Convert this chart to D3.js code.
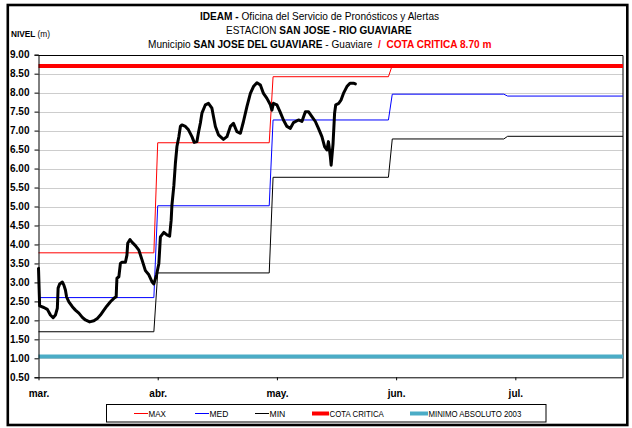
<!DOCTYPE html>
<html>
<head>
<meta charset="utf-8">
<script src="https://cdn.jsdelivr.net/npm/d3@7"></script>
<style>
  html, body { margin: 0; padding: 0; background: #fff; }
  svg { display: block; font-family: "Liberation Sans", Arial, sans-serif; }
</style>
</head>
<body>
<svg id="chart" width="632" height="428"></svg>
<script>
// Monthly reference levels (m), one value per month Mar..Jul
const monthLabels = ["mar.", "abr.", "may.", "jun.", "jul."];
const maxLevels = [3.78, 6.68, 8.42, 8.72, 8.72];
const medLevels = [2.60, 5.02, 7.28, 7.96, 7.91];
const minLevels = [1.70, 3.25, 5.77, 6.78, 6.85];
const cotaCritica = 8.70;
const minimoAbsoluto2003 = 1.05;
const yTickValues = [0.5, 1, 1.5, 2, 2.5, 3, 3.5, 4, 4.5, 5, 5.5, 6, 6.5, 7, 7.5, 8, 8.5, 9];

// Observed river level: days elapsed since 1 March, and level (m)
const obsDay = [0.0, 0.3, 1.4, 2.3, 3.1, 3.8, 4.4, 4.9, 5.1, 5.5, 6.2, 6.6, 7.0, 7.3, 7.9, 8.8, 9.6, 10.5,
  11.4, 12.2, 13.3, 14.4, 15.3, 16.1, 17.0, 17.8, 18.7, 19.6, 20.2, 20.3, 20.4, 20.9, 21.3, 21.7, 22.6,
  23.0, 23.2, 23.8, 24.3, 25.2, 26.1, 26.9, 27.8, 28.7, 29.5, 30.0, 30.7, 31.3, 31.7, 32.6, 33.4, 34.1,
  34.5, 34.7, 35.2, 35.6, 36.0, 36.5, 36.9, 37.3, 38.2, 39.0, 39.9, 40.5, 41.2, 41.6, 42.1, 42.5, 43.4,
  44.2, 45.1, 45.5, 46.0, 46.8, 48.1, 49.0, 49.9, 50.7, 51.6, 52.5, 53.3, 54.2, 55.1, 55.9, 56.8, 57.7,
  58.5, 59.4, 60.3, 60.7, 61.1, 62.0, 62.8, 63.7, 64.6, 65.5, 66.3, 67.6, 68.5, 69.4, 70.2, 71.1, 72.0,
  72.8, 73.7, 74.4, 75.0, 75.4, 75.9, 76.1, 76.6, 77.0, 77.3, 78.1, 78.7, 79.3, 80.2, 81.0, 81.9, 82.4];
const obsLevel = [3.37, 2.38, 2.34, 2.29, 2.14, 2.07, 2.14, 2.32, 2.85, 2.96, 3.01, 2.93, 2.80, 2.62, 2.49, 2.36, 2.27, 2.19,
  2.08, 2.01, 1.96, 1.99, 2.05, 2.14, 2.27, 2.38, 2.49, 2.58, 2.62, 2.89, 3.11, 3.15, 3.50, 3.53, 3.53,
  3.72, 4.03, 4.13, 4.06, 3.97, 3.85, 3.60, 3.31, 3.20, 3.02, 2.96, 3.20, 3.50, 4.20, 4.32, 4.25, 4.22,
  4.64, 5.04, 5.55, 6.14, 6.58, 6.84, 7.11, 7.15, 7.11, 7.02, 6.84, 6.69, 6.71, 6.95, 7.20, 7.46, 7.68,
  7.72, 7.59, 7.37, 7.11, 6.89, 6.77, 6.84, 7.11, 7.19, 6.97, 6.93, 7.24, 7.63, 7.98, 8.16, 8.26, 8.20,
  7.98, 7.85, 7.68, 7.54, 7.72, 7.68, 7.50, 7.28, 7.11, 7.06, 7.21, 7.28, 7.24, 7.50, 7.50, 7.37, 7.24,
  7.06, 6.84, 6.58, 6.49, 6.71, 6.31, 6.09, 6.66, 7.46, 7.68, 7.72, 7.81, 7.98, 8.16, 8.25, 8.25, 8.23];

const svg = d3.select("#chart");
const W = 632, H = 428;
const plot = { left: 38.5, right: 623, top: 54.7, bottom: 377.3 };

const start = new Date(Date.UTC(2011, 2, 1));
const end = d3.utcDay.offset(d3.utcMonth.offset(start, 5), -1); // 31 July

const x = d3.scaleUtc().domain([start, end]).range([plot.left, plot.right]);
const y = d3.scaleLinear().domain([0.5, 9]).range([plot.bottom, plot.top]);

// fit a text element horizontally into a given width
function fitText(node, left, baseline, width) {
  const w = node.getBBox().width;
  d3.select(node).attr("transform", `translate(${left},${baseline}) scale(${width / w},1)`);
}

// outer frame
svg.append("rect")
  .attr("x", 7.8).attr("y", 5).attr("width", 619.5).attr("height", 420)
  .attr("fill", "#fff").attr("stroke", "#000").attr("stroke-width", 2.6);

// title
const titleLines = [
  { parts: [["IDEAM - ", "bold", "#000"], ["Oficina del Servicio de Pronósticos y Alertas", "normal", "#000"]], base: 19.5, left: 200, width: 240 },
  { parts: [["ESTACION ", "normal", "#000"], ["SAN JOSE - RIO GUAVIARE", "bold", "#000"]], base: 33.5, left: 226, width: 186 },
  { parts: [["Municipio ", "normal", "#000"], ["SAN JOSE DEL GUAVIARE", "bold", "#000"], [" - Guaviare  ", "normal", "#000"], ["/  COTA CRITICA 8.70 m", "bold", "#ff0000"]], base: 47.5, left: 148, width: 344 }
];
titleLines.forEach(line => {
  const t = svg.append("text").attr("font-size", 11).attr("x", 0).attr("y", 0).attr("xml:space", "preserve");
  line.parts.forEach(p => t.append("tspan").text(p[0]).attr("font-weight", p[1]).attr("fill", p[2]));
  fitText(t.node(), line.left, line.base, line.width);
});

// y axis caption
const cap = svg.append("text").attr("font-size", 9.5).attr("xml:space", "preserve");
cap.append("tspan").text("NIVEL ").attr("font-weight", "bold");
cap.append("tspan").text("(m)");
fitText(cap.node(), 11, 37, 39);

// gridlines
const crisp = v => Math.round(v) + 0.5;
svg.append("g").selectAll("line")
  .data(yTickValues.filter(v => v > 0.5 && v < 9))
  .join("line")
  .attr("x1", plot.left).attr("x2", plot.right)
  .attr("y1", d => crisp(y(d))).attr("y2", d => crisp(y(d)))
  .attr("stroke", "#9a9a9a").attr("stroke-width", 1).attr("stroke-dasharray", "1,1");

// plot area top and right border
svg.append("path")
  .attr("d", `M${plot.left},${crisp(y(9))}H${plot.right}V${plot.bottom}`)
  .attr("fill", "none").attr("stroke", "#000").attr("stroke-width", 1);

// monthly step series
function stepPoints(levels) {
  return levels.flatMap((v, i) => {
    const s = d3.utcMonth.offset(start, i);
    const e = i === levels.length - 1 ? end : d3.utcDay.offset(d3.utcMonth.offset(start, i + 1), -1);
    return [[s, v], [e, v]];
  });
}
const line = d3.line().x(d => x(d[0])).y(d => y(d[1]));
const stepSeries = [
  { levels: minLevels, color: "#000" },
  { levels: medLevels, color: "#0000ff" },
  { levels: maxLevels, color: "#ff0000" }
];
stepSeries.forEach(s => {
  svg.append("path").datum(stepPoints(s.levels)).attr("d", line)
    .attr("fill", "none").attr("stroke", s.color).attr("stroke-width", 1);
});

// critical level and historical minimum
svg.append("path").datum([[start, cotaCritica], [end, cotaCritica]]).attr("d", line)
  .attr("fill", "none").attr("stroke", "#ff0000").attr("stroke-width", 4);
svg.append("path").datum([[start, minimoAbsoluto2003], [end, minimoAbsoluto2003]]).attr("d", line)
  .attr("fill", "none").attr("stroke", "#4bacc6").attr("stroke-width", 4);

// observed level
const obs = obsDay.map((d, i) => [new Date(start.getTime() + d * 864e5), obsLevel[i]]);
svg.append("path").datum(obs).attr("d", line)
  .attr("fill", "none").attr("stroke", "#000").attr("stroke-width", 3)
  .attr("stroke-linejoin", "round").attr("stroke-linecap", "round");

// y axis
const yAxis = svg.append("g").attr("transform", `translate(${plot.left},0)`)
  .call(d3.axisLeft(y).tickValues(yTickValues).tickFormat(d3.format(".2f")).tickSize(4).tickPadding(5));
yAxis.select(".domain").attr("stroke", "#000");
yAxis.selectAll(".tick line").attr("stroke", "#000");
yAxis.selectAll("text").attr("font-size", 10).attr("font-weight", "bold")
  .attr("font-family", "'Liberation Sans', Arial, sans-serif").attr("fill", "#000");

// x axis: ticks every 31 days from 1 March
const xTicks = monthLabels.map((m, i) => d3.utcDay.offset(start, 31 * i));
const xAxis = svg.append("g").attr("transform", `translate(0,${plot.bottom})`)
  .call(d3.axisBottom(x).tickValues(xTicks).tickFormat((d, i) => monthLabels[i]).tickSize(3).tickSizeOuter(0).tickPadding(10));
xAxis.select(".domain").attr("stroke", "#000");
xAxis.selectAll(".tick line").attr("stroke", "#000");
xAxis.selectAll("text").attr("font-size", 10).attr("font-weight", "bold")
  .attr("font-family", "'Liberation Sans', Arial, sans-serif").attr("fill", "#000");

// legend
svg.append("rect").attr("x", 106.5).attr("y", 404.5).attr("width", 439.5).attr("height", 17.5)
  .attr("fill", "#fff").attr("stroke", "#000").attr("stroke-width", 1);
const legendItems = [
  { label: "MAX", color: "#ff0000", sw: 1, x0: 134, x1: 148, tw: 18 },
  { label: "MED", color: "#0000ff", sw: 1, x0: 195, x1: 209, tw: 19 },
  { label: "MIN", color: "#000", sw: 1, x0: 255, x1: 269, tw: 16 },
  { label: "COTA CRITICA", color: "#ff0000", sw: 4, x0: 312, x1: 329, tw: 55 },
  { label: "MINIMO ABSOLUTO 2003", color: "#4bacc6", sw: 4, x0: 410, x1: 428, tw: 93 }
];
const ly = 413.5;
legendItems.forEach(it => {
  svg.append("line").attr("x1", it.x0).attr("x2", it.x1).attr("y1", ly).attr("y2", ly)
    .attr("stroke", it.color).attr("stroke-width", it.sw);
  const t = svg.append("text").attr("font-size", 9.5).text(it.label).attr("fill", "#000");
  fitText(t.node(), it.x1 + 0.5, ly + 3.4, it.tw);
});
</script>
</body>
</html>
